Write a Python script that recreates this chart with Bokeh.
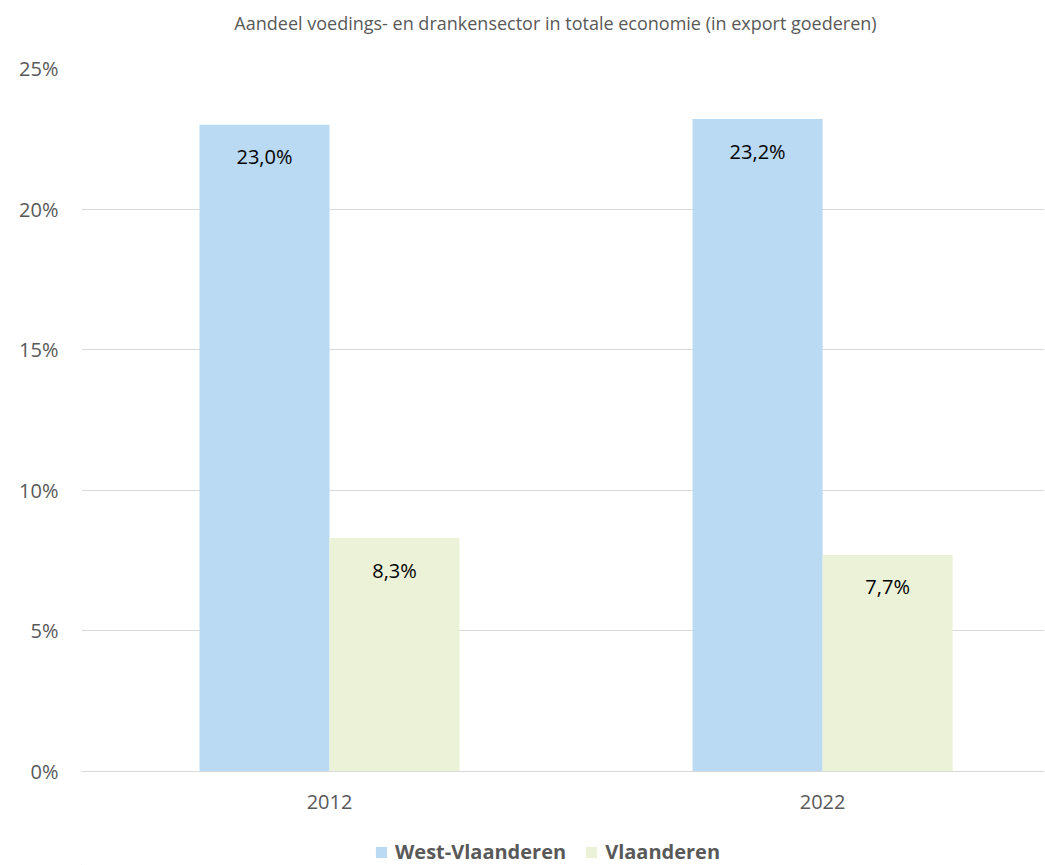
from bokeh.plotting import figure
from bokeh.models import (ColumnDataSource, Range1d, FixedTicker, LabelSet, Label,
                          Legend, LegendItem)
from bokeh.layouts import column
from bokeh.core.properties import value
from bokeh.embed import file_html
from bokeh.resources import INLINE

title_text = "Aandeel voedings- en drankensector in totale economie (in export goederen)"
years = ["2012", "2022"]
series = ["West-Vlaanderen", "Vlaanderen"]
west_vlaanderen = [23.0, 23.2]
vlaanderen = [8.3, 7.7]
colors = ["#BAD9F3", "#ECF2D7"]
y_ticks = [0, 5, 10, 15, 20, 25]

FONT = "Open Sans"
GREY = "#595959"


def strip(h):
    f = figure(width=1044, height=h, output_backend="svg", toolbar_location=None,
               x_range=Range1d(0, 1044), y_range=Range1d(0, h),
               x_axis_location=None, y_axis_location=None,
               min_border_left=0, min_border_right=0, min_border_top=0, min_border_bottom=0)
    f.grid.visible = False
    f.outline_line_color = None
    return f


# title strip (its frame is aligned with the chart frame, which starts 81px in)
ts = strip(44)
ts.add_layout(Label(x=474, y=22, x_units="screen", y_units="screen", text=title_text,
                    text_align="center", text_baseline="middle", text_font=FONT,
                    text_font_size="18px", text_color=GREY))

p = figure(frame_width=963, frame_height=703, output_backend="svg", toolbar_location=None,
           x_range=Range1d(-0.003, 1.950), y_range=Range1d(0, 25),
           min_border_left=81, min_border_right=0, min_border_top=24, min_border_bottom=65)
p.outline_line_color = None
p.background_fill_color = "white"

bw = 0.2637
centers = [i + 0.5 for i in range(len(years))]
values = [west_vlaanderen, vlaanderen]
offsets = [-bw / 2, bw / 2]
for s, vals, off, col in zip(series, values, offsets, colors):
    src = ColumnDataSource(dict(x=[c + off for c in centers], top=vals,
                                lab=[("%.1f%%" % v).replace(".", ",") for v in vals]))
    p.vbar(x="x", top="top", bottom=0, width=bw, source=src, fill_color=col,
           line_color=None)
    p.add_layout(LabelSet(x="x", y="top", text="lab", source=src, y_offset=-32,
                          text_align="center", text_baseline="middle",
                          text_font=value(FONT), text_font_size=value("20px"),
                          text_color="black"))

# axes
p.xaxis.ticker = FixedTicker(ticks=centers)
p.xaxis.major_label_overrides = {c: y for c, y in zip(centers, years)}
p.xaxis.major_tick_line_color = None
p.xaxis.minor_tick_line_color = None
p.xaxis.axis_line_color = "#D9D9D9"
p.xaxis.axis_line_width = 1
p.xaxis.major_label_text_font = FONT
p.xaxis.major_label_text_font_size = "20px"
p.xaxis.major_label_text_color = GREY
p.xaxis.major_label_standoff = 17

p.yaxis.ticker = FixedTicker(ticks=y_ticks)
p.yaxis.major_label_overrides = {t: "%d%%" % t for t in y_ticks}
p.yaxis.axis_line_color = None
p.yaxis.major_tick_line_color = None
p.yaxis.minor_tick_line_color = None
p.yaxis.major_label_text_font = FONT
p.yaxis.major_label_text_font_size = "20px"
p.yaxis.major_label_text_color = GREY
p.yaxis.major_label_standoff = 17

p.xgrid.grid_line_color = None
p.ygrid.grid_line_color = "#D9D9D9"
p.ygrid.grid_line_width = 1

# legend strip below the chart (proxy glyphs lie outside the visible range)
lg = strip(29)
items = []
for s, col in zip(series, colors):
    r = lg.vbar(x=[-100], top=[1], width=1, fill_color=col, line_color=None)
    items.append(LegendItem(label=s, renderers=[r]))
legend = Legend(items=items, orientation="horizontal", location=(293, 0),
                label_text_font=FONT, label_text_font_size="20px", label_text_font_style="bold",
                label_text_color=GREY, glyph_width=14, glyph_height=14, spacing=18,
                label_standoff=7, border_line_color=None, background_fill_alpha=0,
                padding=0, margin=0)
lg.add_layout(legend, "center")

layout = column(ts, p, lg, spacing=0)
open("out.html", "w").write(file_html(layout, INLINE))
